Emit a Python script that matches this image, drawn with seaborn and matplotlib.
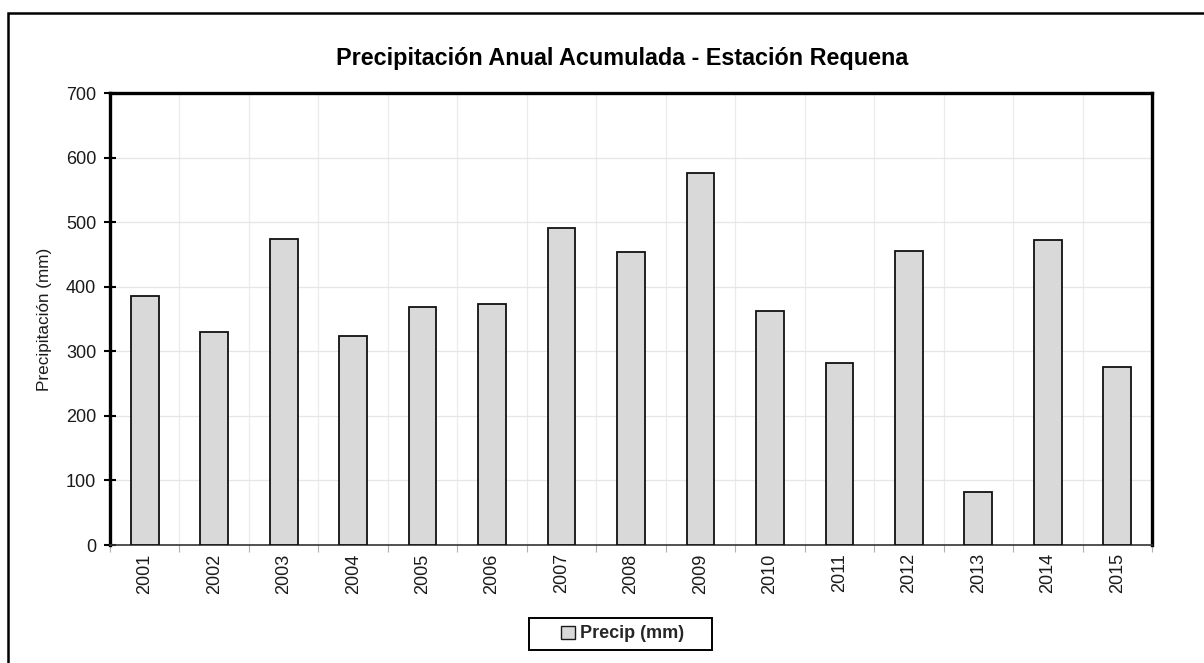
import matplotlib
matplotlib.use("Agg")
import matplotlib.pyplot as plt
from matplotlib.patches import Rectangle, Patch
from matplotlib.ticker import FixedLocator, MultipleLocator
import seaborn as sns
import pandas as pd

years = ["2001", "2002", "2003", "2004", "2005", "2006", "2007", "2008",
         "2009", "2010", "2011", "2012", "2013", "2014", "2015"]
precip = [385, 330, 474, 324, 369, 373, 491, 454, 576, 362, 282, 455, 82, 472, 276]

title = "Precipitación Anual Acumulada - Estación Requena"
ylabel = "Precipitación (mm)"
series_name = "Precip (mm)"

sns.set_theme(style="white")
plt.rcParams["font.family"] = ["Liberation Sans", "DejaVu Sans"]

df = pd.DataFrame({"year": years, "precip": precip})

W, H = 1204, 663
fig = plt.figure(figsize=(W / 100, H / 100), dpi=100)
ax = fig.add_axes([110 / W, 1 - 545 / H, (1152 - 110) / W, (545 - 93) / H])

# outer frame of the chart area
fig.patches.append(Rectangle((8 / W, -0.05), 1.1, 1 - 13 / H + 0.05,
                             transform=fig.transFigure, fill=False,
                             edgecolor="black", linewidth=1.8, zorder=0))

sns.barplot(data=df, x="year", y="precip", ax=ax, color="#d9d9d9",
            saturation=1, width=0.4, edgecolor="#111111", linewidth=1.3, zorder=3)

n = len(years)
ax.set_xlim(-0.5, n - 0.5)
ax.set_ylim(0, 700)
ax.yaxis.set_major_locator(MultipleLocator(100))

# category boundaries carry the x grid and small tick marks
ax.xaxis.set_minor_locator(FixedLocator([i - 0.5 for i in range(n + 1)]))
ax.grid(True, which="minor", axis="x", color="#ebebeb", linewidth=0.9, zorder=0)
ax.grid(True, which="major", axis="y", color="#e6e6e6", linewidth=0.9, zorder=0)
ax.grid(False, which="major", axis="x")
ax.set_axisbelow(True)

ax.tick_params(axis="x", which="major", length=0, pad=6, labelsize=13,
               labelrotation=90, labelcolor="#1a1a1a")
ax.tick_params(axis="x", which="minor", length=5, width=0.8, color="#b0b0b0",
               direction="out", bottom=True)
ax.tick_params(axis="y", which="major", length=8, width=1.5, color="black",
               direction="inout", left=True, pad=6, labelsize=13,
               labelcolor="#1a1a1a")

for side in ("left", "top", "right"):
    ax.spines[side].set_linewidth(2.4)
    ax.spines[side].set_color("black")
ax.spines["bottom"].set_linewidth(1.2)
ax.spines["bottom"].set_color("#333333")

ax.set_xlabel("")
ax.set_ylabel(ylabel, fontsize=12.3, color="#1a1a1a", labelpad=10)

fig.text(622 / W, 1 - 58 / H, title, ha="center", va="center",
         fontsize=16.8, fontweight="bold", color="black")

# legend box with a single entry
fig.patches.append(Rectangle((529 / W, 1 - 650 / H), (712 - 529) / W, 32 / H,
                             transform=fig.transFigure, fill=True, facecolor="white",
                             edgecolor="black", linewidth=1.4, zorder=2))
handle = Patch(facecolor="#d9d9d9", edgecolor="#1a1a1a", linewidth=1.0)
leg = fig.legend([handle], [series_name], loc="center",
                 bbox_to_anchor=(623 / W, 1 - 634 / H),
                 frameon=False, handlelength=0.75, handleheight=0.75,
                 handletextpad=0.3, borderpad=0.2,
                 prop={"weight": "bold", "size": 13}, borderaxespad=0)
leg.set_zorder(3)

fig.savefig("out.png", dpi=100)
